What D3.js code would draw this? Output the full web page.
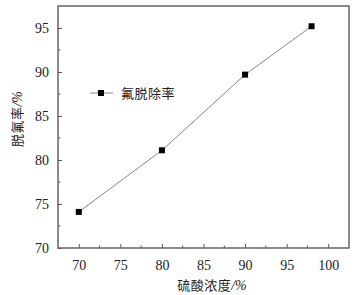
<!DOCTYPE html>
<html lang="zh">
<head>
    <meta charset="UTF-8">
    <title>硫酸浓度与脱氟率</title>
    <script src="https://cdn.jsdelivr.net/npm/d3@7/dist/d3.min.js"></script>
    <style>
        body { margin: 0; background: #fff; }
        .cjk { font-family: "Noto Sans CJK SC", sans-serif; font-size: 13px; fill: #222; }
        .pct { font-family: "Liberation Serif", serif; font-style: italic; }
    </style>
</head>
<body>
    <div id="chart"></div>
    <script>
        var w = 357;
        var h = 295;
        var margin = { top: 6, right: 8, bottom: 47, left: 58 };

        var concentration = [70, 80, 90, 98];
        var removalRate = [74.1, 81.1, 89.7, 95.2];
        var xTicks = [70, 75, 80, 85, 90, 95, 100];
        var yTicks = [70, 75, 80, 85, 90, 95];
        var seriesName = "氟脱除率";

        var iw = w - margin.left - margin.right;
        var ih = h - margin.top - margin.bottom;

        var svg = d3.select("#chart").append("svg")
            .attr("width", w)
            .attr("height", h);

        var g = svg.append("g")
            .attr("transform", `translate(${margin.left},${margin.top})`);

        var x = d3.scaleLinear().domain([67.5, 102.5]).range([0, iw]);
        var y = d3.scaleLinear().domain([70, 97.5]).range([ih, 0]);

        // minor ticks (inside)
        var xMinor = d3.range(72.5, 102.5, 5);
        var yMinor = d3.range(72.5, 97.5, 5);

        g.selectAll(".xminor").data(xMinor).enter().append("line")
            .attr("x1", d => x(d)).attr("x2", d => x(d))
            .attr("y1", ih).attr("y2", ih - 2.5)
            .attr("stroke", "#555");
        g.selectAll(".yminor").data(yMinor).enter().append("line")
            .attr("y1", d => y(d)).attr("y2", d => y(d))
            .attr("x1", 0).attr("x2", 2.5)
            .attr("stroke", "#555");

        var xAxis = g.append("g")
            .attr("transform", `translate(0,${ih})`)
            .call(d3.axisBottom(x).tickValues(xTicks).tickSizeInner(-4).tickSizeOuter(0).tickPadding(12));
        var yAxis = g.append("g")
            .call(d3.axisLeft(y).tickValues(yTicks).tickSizeInner(-4).tickSizeOuter(0).tickPadding(9));

        [xAxis, yAxis].forEach(function(a) {
            a.select(".domain").remove();
            a.selectAll(".tick line").attr("stroke", "#555");
            a.selectAll(".tick text")
                .style("font-family", "'Liberation Serif', 'DejaVu Serif', serif")
                .style("font-size", "14px")
                .style("fill", "#222");
        });

        // frame
        g.append("rect")
            .attr("x", 0).attr("y", 0)
            .attr("width", iw).attr("height", ih)
            .attr("fill", "none")
            .attr("stroke", "#666")
            .attr("stroke-width", 1.5);

        var pts = concentration.map((c, i) => [c, removalRate[i]]);

        g.append("path")
            .datum(pts)
            .attr("fill", "none")
            .attr("stroke", "#888")
            .attr("stroke-width", 1)
            .attr("d", d3.line().x(d => x(d[0])).y(d => y(d[1])));

        g.selectAll(".pt").data(pts).enter().append("rect")
            .attr("x", d => x(d[0]) - 3)
            .attr("y", d => y(d[1]) - 3)
            .attr("width", 6).attr("height", 6)
            .attr("fill", "#000");

        // legend
        var lg = svg.append("g").attr("transform", "translate(90,93)");
        lg.append("line").attr("x1", 0).attr("x2", 23).attr("y1", 0).attr("y2", 0)
            .attr("stroke", "#888");
        lg.append("rect").attr("x", 8).attr("y", -3).attr("width", 6).attr("height", 6).attr("fill", "#000");
        lg.append("text").attr("class", "cjk").attr("x", 31).attr("y", 4.5)
            .attr("letter-spacing", "0.5px").text(seriesName);

        // axis titles
        var xt = svg.append("text").attr("class", "cjk")
            .attr("x", 212)
            .attr("y", 290)
            .attr("text-anchor", "middle");
        xt.append("tspan").attr("letter-spacing", "0.5px").text("硫酸浓度");
        xt.append("tspan").attr("class", "pct").attr("font-size", "14px").text("/%");

        var yt = svg.append("text").attr("class", "cjk")
            .attr("transform", "translate(22,119) rotate(-90)")
            .attr("text-anchor", "middle");
        yt.append("tspan").attr("letter-spacing", "0.5px").text("脱氟率");
        yt.append("tspan").attr("class", "pct").attr("font-size", "14px").text("/%");
    </script>
</body>
</html>
